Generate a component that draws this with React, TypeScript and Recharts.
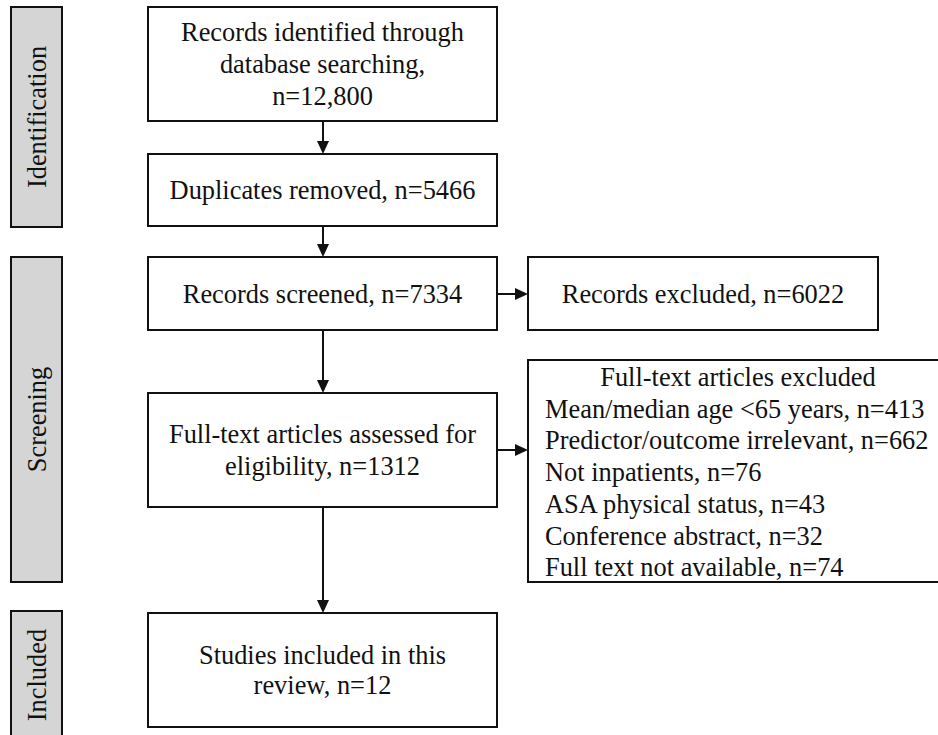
import { ComposedChart, XAxis, YAxis, ReferenceArea, ReferenceLine } from "recharts";

// PRISMA flow: stage names and counts
const stages = ["Identification", "Screening", "Included"];
const identified = 12800;
const duplicates = 5466;
const screened = 7334;
const excluded = 6022;
const assessed = 1312;
const included = 12;
const exclusionReasons = [
  "Mean/median age <65 years",
  "Predictor/outcome irrelevant",
  "Not inpatients",
  "ASA physical status",
  "Conference abstract",
  "Full text not available",
];
const exclusionCounts = [413, 662, 76, 43, 32, 74];

const W = 938;
const H = 735;
const FONT = "'Liberation Serif', 'Times New Roman', serif";
const FS = 26.4;

// layout in pixel units (axis domains match the canvas size)
const stageBands = [
  { y1: 7, y2: 227 },
  { y1: 257, y2: 582 },
  { y1: 611, y2: 770 },
];

const mainBoxes = [
  { y1: 7, y2: 121, lines: ["Records identified through", "database searching,", `n=${identified.toLocaleString("en-US")}`], gap: 32 },
  { y1: 154, y2: 226, lines: [`Duplicates removed, n=${duplicates}`], gap: 32 },
  { y1: 257, y2: 330, lines: [`Records screened, n=${screened}`], gap: 32 },
  { y1: 393, y2: 507, lines: ["Full-text articles assessed for", `eligibility, n=${assessed}`], gap: 32 },
  { y1: 613, y2: 727, lines: ["Studies included in this", `review, n=${included}`], gap: 30 },
];

const arrows = [
  [323, 121, 323, 154],
  [323, 226, 323, 257],
  [497, 294, 528, 294],
  [323, 330, 323, 393],
  [497, 450, 528, 450],
  [323, 507, 323, 613],
];

const boxStyle = { fill: "#fff", stroke: "#111", strokeWidth: 2 };

function centeredBox(lines: string[], gap: number) {
  return (p: any) => {
    const cx = p.x + p.width / 2;
    const cy = p.y + p.height / 2;
    const start = cy - ((lines.length - 1) * gap) / 2;
    return (
      <g>
        <rect x={p.x} y={p.y} width={p.width} height={p.height} {...boxStyle} />
        {lines.map((t, i) => (
          <text key={i} x={cx} y={start + i * gap} textAnchor="middle" dominantBaseline="central"
            fontFamily={FONT} fontSize={FS} fill="#111">{t}</text>
        ))}
      </g>
    );
  };
}

function stageShape(name: string) {
  return (p: any) => {
    const cx = p.x + p.width / 2;
    const cy = name === "Included" ? 675 : p.y + p.height / 2;
    return (
      <g>
        <rect x={p.x} y={p.y} width={p.width} height={p.height} fill="#d5d5d5" stroke="#111" strokeWidth={2} />
        <text x={cx} y={cy} transform={`rotate(-90 ${cx} ${cy})`} textAnchor="middle" dominantBaseline="central"
          fontFamily={FONT} fontSize={FS} fill="#111">{name}</text>
      </g>
    );
  };
}

function exclusionShape(p: any) {
  const header = 377;
  return (
    <g>
      <rect x={p.x} y={p.y} width={p.width} height={p.height} {...boxStyle} />
      <text x={738} y={header} textAnchor="middle" dominantBaseline="central" fontFamily={FONT} fontSize={FS} fill="#111">
        Full-text articles excluded
      </text>
      {exclusionReasons.map((r, i) => (
        <text key={r} x={545} y={header + (i + 1) * 31.7} dominantBaseline="central" fontFamily={FONT} fontSize={FS} fill="#111">
          {`${r}, n=${exclusionCounts[i]}`}
        </text>
      ))}
    </g>
  );
}

function arrowShape(p: any) {
  const { x1, y1, x2, y2 } = p;
  const vertical = Math.abs(x1 - x2) < 1;
  const L = 13;
  const hw = 6;
  const head = vertical
    ? `${x2 - hw},${y2 - L} ${x2 + hw},${y2 - L} ${x2},${y2}`
    : `${x2 - L},${y2 - hw} ${x2 - L},${y2 + hw} ${x2},${y2}`;
  return (
    <g>
      <line x1={x1} y1={y1} x2={vertical ? x2 : x2 - L + 1} y2={vertical ? y2 - L + 1 : y2} stroke="#111" strokeWidth={2} />
      <polygon points={head} fill="#111" />
    </g>
  );
}

export default function App() {
  return (
    <div style={{ width: W, height: H, background: "#fff" }}>
      <style>{`body{margin:0;}`}</style>
      <ComposedChart width={W} height={H} data={[{ x: 0, y: 0 }]} margin={{ top: 0, right: 0, bottom: 0, left: 0 }}>
        <XAxis type="number" dataKey="x" domain={[0, W]} hide allowDataOverflow />
        <YAxis type="number" dataKey="y" domain={[0, H]} reversed hide allowDataOverflow />
        {stages.map((s, i) => (
          <ReferenceArea key={s} x1={11} x2={62} y1={stageBands[i].y1} y2={stageBands[i].y2}
            ifOverflow="visible" shape={stageShape(s)} />
        ))}
        {mainBoxes.map((b, i) => (
          <ReferenceArea key={i} x1={148} x2={497} y1={b.y1} y2={b.y2} ifOverflow="visible" shape={centeredBox(b.lines, b.gap)} />
        ))}
        <ReferenceArea x1={528} x2={878} y1={257} y2={330} ifOverflow="visible"
          shape={centeredBox([`Records excluded, n=${excluded}`], 32)} />
        <ReferenceArea x1={528} x2={970} y1={360} y2={582} ifOverflow="visible" shape={exclusionShape} />
        {arrows.map((a, i) => (
          <ReferenceLine key={i} segment={[{ x: a[0], y: a[1] }, { x: a[2], y: a[3] }]} ifOverflow="visible" shape={arrowShape} />
        ))}
      </ComposedChart>
    </div>
  );
}
